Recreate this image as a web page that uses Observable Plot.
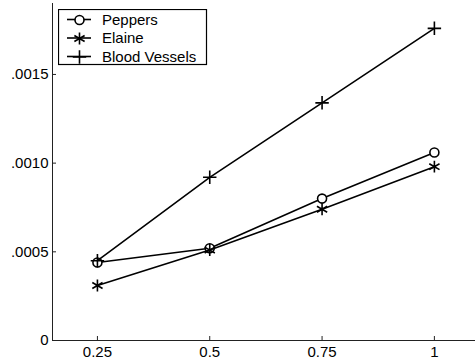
<!DOCTYPE html>
<html>
<head>
<meta charset="utf-8">
<script src="https://cdn.jsdelivr.net/npm/d3@7"></script>
<script src="https://cdn.jsdelivr.net/npm/@observablehq/plot@0.6"></script>
<style>
  html, body { margin: 0; padding: 0; background: #fff; }
  #wrap { position: relative; width: 475px; height: 360px; font-family: "Liberation Sans", Arial, sans-serif; }
  #legend { position: absolute; left: 58px; top: 9px; }
</style>
</head>
<body>
<div id="wrap"><div id="chart"></div><svg id="legend" width="150" height="57"></svg></div>
<script>
const xValues = [0.25, 0.5, 0.75, 1];
const peppers = [0.00044, 0.00052, 0.00080, 0.00106];
const elaine = [0.00031, 0.00051, 0.00074, 0.00098];
const bloodVessels = [0.00045, 0.00092, 0.00134, 0.00176];
const seriesNames = ["Peppers", "Elaine", "Blood Vessels"];
const seriesSymbols = ["circle", "asterisk", "plus"];
const seriesR = [4.5, 5.6, 4.4];
const yTicks = [0, 0.0005, 0.0010, 0.0015];
const yTickLabels = ["0", ".0005", ".0010", ".0015"];
const xTickLabels = ["0.25", "0.5", "0.75", "1"];

const seriesValues = [peppers, elaine, bloodVessels];
const data = seriesNames.flatMap((name, i) =>
  xValues.map((x, j) => ({series: name, x, y: seriesValues[i][j]})));

const marks = [
  Plot.ruleX([0.15], {stroke: "#222", strokeWidth: 1}),
  Plot.ruleY([0], {stroke: "#222", strokeWidth: 1}),
  Plot.axisX({ticks: xValues, tickFormat: d => xTickLabels[xValues.indexOf(d)], tickSize: -4, tickPadding: 10, fontSize: 15, stroke: "#222", color: "#000", label: null}),
  Plot.axisY({ticks: yTicks, tickFormat: d => yTickLabels[yTicks.indexOf(d)], tickSize: -4, tickPadding: 8, fontSize: 15, stroke: "#222", color: "#000", label: null})
];
seriesNames.forEach((name, i) => {
  const d = data.filter(r => r.series === name);
  marks.push(Plot.line(d, {x: "x", y: "y", stroke: "#000", strokeWidth: 1.6}));
  marks.push(Plot.dot(d, {x: "x", y: "y", symbol: seriesSymbols[i], r: seriesR[i], stroke: "#000", strokeWidth: 1.6, fill: i === 0 ? "#fff" : "none"}));
});

const chart = Plot.plot({
  width: 475,
  height: 360,
  marginLeft: 52,
  marginRight: 0,
  marginTop: 3,
  marginBottom: 20,
  style: {fontFamily: "'Liberation Sans', Arial, sans-serif", fontSize: "15px", background: "#fff"},
  x: {domain: [0.15, 1.0915], axis: null, label: null},
  y: {domain: [0, 0.0019], axis: null, label: null},
  marks
});
document.getElementById("chart").appendChild(chart);

// Legend, using the same Plot symbols
const leg = d3.select("#legend");
leg.append("rect").attr("x", 0.5).attr("y", 0.5).attr("width", 148).attr("height", 55)
  .attr("fill", "#fff").attr("stroke", "#000").attr("stroke-width", 1.2);
seriesNames.forEach((name, i) => {
  const cy = 10.5 + i * 18.5;
  const g = leg.append("g");
  g.append("line").attr("x1", 9).attr("x2", 33).attr("y1", cy).attr("y2", cy)
    .attr("stroke", "#000").attr("stroke-width", 1.6);
  const sym = Plot.plot({
    width: 20, height: 20, margin: 0,
    x: {domain: [0, 1], axis: null}, y: {domain: [0, 1], axis: null},
    marks: [Plot.dot([{x: 0.5, y: 0.5}], {x: "x", y: "y", symbol: seriesSymbols[i], r: seriesR[i], stroke: "#000", strokeWidth: 1.6, fill: i === 0 ? "#fff" : "none"})]
  });
  const path = sym.querySelector("path, circle");
  const clone = path.cloneNode(true);
  const gg = g.append("g").attr("transform", `translate(${21 - 10},${cy - 10})`);
  // copy the whole dot group to keep the symbol's transform
  const dotGroup = path.closest("g[aria-label='dot']") || path.parentNode;
  gg.node().appendChild(dotGroup.cloneNode(true));
  g.append("text").attr("x", 44).attr("y", cy).attr("dy", "0.35em")
    .attr("font-size", 15).attr("font-family", "'Liberation Sans', Arial, sans-serif").text(name);
});
</script>
</body>
</html>
